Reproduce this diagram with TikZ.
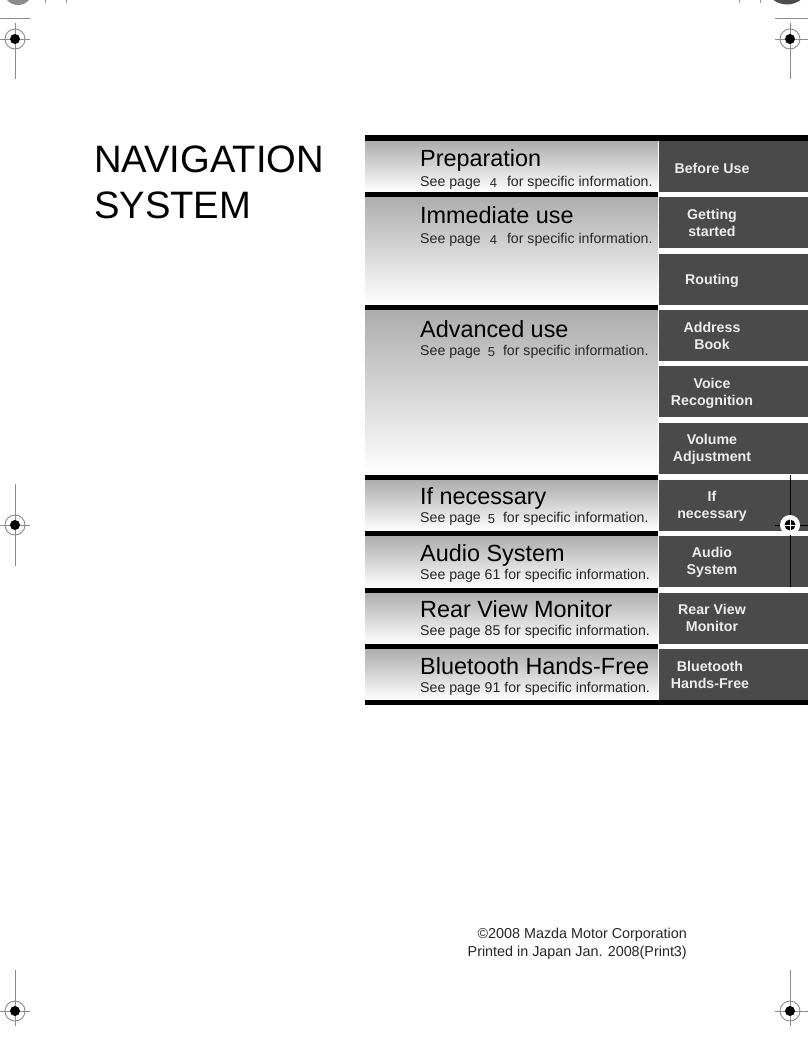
\documentclass[tikz,border=0pt]{standalone}
\usepackage{fontspec}
\setmainfont{Liberation Sans}
\usetikzlibrary{positioning}
\tikzset{
  band/.style={anchor=north west,minimum width=293pt,inner sep=0,outer sep=0,top color=bandgray,bottom color=white},
  tabbox/.style={anchor=north west,minimum width=149pt,minimum height=51pt,inner sep=0,outer sep=0,fill=tabgray},
  tabtext/.style={xshift=-21.5pt,align=center,text=tabwhite,inner sep=0,font=\fontsize{14.2}{17}\selectfont\bfseries},
  heading/.style={anchor=base west,inner sep=0,text height=17pt,text depth=5pt,font=\fontsize{23.4}{28}\selectfont},
  subline/.style={anchor=north west,inner sep=0,yshift=-3pt,text=black!85,font=\fontsize{14.15}{17}\selectfont},
  bar/.style={fill=black},
  regline/.style={black!45,line width=0.9pt},
}
\definecolor{bandgray}{HTML}{ADADAD}
\definecolor{tabgray}{HTML}{4A4A4A}
\definecolor{tabwhite}{HTML}{EDEDED}
\newcommand{\nums}[1]{\hspace{9pt}\raisebox{-1pt}{\fontsize{13}{17}\selectfont #1}\hspace{10pt}}
\newcommand{\numt}[1]{\hspace{7pt}\raisebox{-1pt}{\fontsize{13}{17}\selectfont #1}\hspace{8pt}}
\begin{document}
\begin{tikzpicture}[x=1pt,y=-1pt,node distance=0,on grid=false]
  \useasboundingbox (0,0) rectangle (808,1045);
  \fill[white] (0,0) rectangle (808,1045);
  % Place bands
  \node [band,minimum height=51pt] (prep) at (365,141) {};
  \node [band,minimum height=108pt] (imm) at (365,196.5) {};
  \node [band,minimum height=165pt] (adv) at (365,310) {};
  \node [band,minimum height=51pt] (nec) at (365,480) {};
  \node [band,minimum height=52pt] (audio) at (365,536) {};
  \node [band,minimum height=52pt] (rear) at (365,592) {};
  \node [band,minimum height=51pt] (blue) at (365,649) {};
  % Bars
  \fill[bar] (365,135) rectangle (808,141);
  \fill[bar] (365,191.5) rectangle (658,196.5);
  \fill[bar] (365,304.5) rectangle (658,310);
  \fill[bar] (365,475) rectangle (658,480);
  \fill[bar] (365,531) rectangle (658,536);
  \fill[bar] (365,587.5) rectangle (658,592.5);
  \fill[bar] (365,644) rectangle (658,649);
  \fill[bar] (365,700) rectangle (808,705);
  % Place tabs
  \node [tabbox] (tabuse) at (659,141) {};
  \node [tabbox] (tabstart) at (659,197) {};
  \node [tabbox] (tabroute) at (659,253.5) {};
  \node [tabbox] (tabaddr) at (659,310) {};
  \node [tabbox] (tabvoice) at (659,366) {};
  \node [tabbox] (tabvol) at (659,423) {};
  \node [tabbox] (tabnec) at (659,479.5) {};
  \node [tabbox] (tabaudio) at (659,536) {};
  \node [tabbox] (tabrear) at (659,592.5) {};
  \node [tabbox] (tabblue) at (659,649) {};
  \node [tabtext,yshift=-1.5pt] (ttuse) at (tabuse) {Before Use};
  \node [tabtext] (ttstart) at (tabstart) {Getting\\started};
  \node [tabtext,yshift=-2pt] (ttroute) at (tabroute) {Routing};
  \node [tabtext] (ttaddr) at (tabaddr) {Address\\Book};
  \node [tabtext,yshift=-2pt] (ttvoice) at (tabvoice) {Voice\\Recognition};
  \node [tabtext,yshift=-1pt] (ttvol) at (tabvol) {Volume\\Adjustment};
  \node [tabtext,yshift=-1pt] (ttnec) at (tabnec) {If\\necessary};
  \node [tabtext,yshift=-1pt] (ttaudio) at (tabaudio) {Audio\\System};
  \node [tabtext] (ttrear) at (tabrear) {Rear View\\Monitor};
  \node [tabtext,xshift=-2pt] (ttblue) at (tabblue) {Bluetooth\\Hands-Free};
  % Headings
  \node [heading] (hprep) at (420,166) {Preparation};
  \node [heading] (himm) at (420,223) {Immediate use};
  \node [heading] (hadv) at (420,337) {Advanced use};
  \node [heading] (hnec) at (420,504) {If necessary};
  \node [heading] (haudio) at (420,561) {Audio System};
  \node [heading] (hrear) at (420,617) {Rear View Monitor};
  \node [heading] (hblue) at (420,674) {Bluetooth Hands-Free};
  \node [below=of hprep.south west,subline,yshift=-2pt] (sprep) {See page\nums{4}for specific information.};
  \node [below=of himm.south west,subline,yshift=-2pt] (simm) {See page\nums{4}for specific information.};
  \node [below=of hadv.south west,subline] (sadv) {See page\numt{5}for specific information.};
  \node [below=of hnec.south west,subline] (snec) {See page\numt{5}for specific information.};
  \node [below=of haudio.south west,subline] (saudio) {See page 61 for specific information.};
  \node [below=of hrear.south west,subline] (srear) {See page 85 for specific information.};
  \node [below=of hblue.south west,subline] (sblue) {See page 91 for specific information.};
  % Title and imprint
  \node [anchor=west,align=left,inner sep=0,font=\fontsize{38.2}{46}\selectfont] (title) at (94,182) {NAVIGATION\\SYSTEM};
  \node [anchor=east,align=right,inner sep=0,text=black!85,font=\fontsize{14.35}{18}\selectfont] (imprint) at (687,943.5) {©2008 Mazda Motor Corporation\\Printed in Japan Jan. 2008(Print3)};
  % Trim marks
  \foreach \x/\y/\a/\b/\c/\d in {15/39/0/30/23/79,790/39/775/808/23/79,15/525/0/30/484/566,15/1011/0/30/970/1026,790/1011/775/808/970/1026} {
    \draw[regline] (\a,\y) -- (\b,\y) (\x,\c) -- (\x,\d);
    \draw[regline] (\x,\y) circle (10);
    \fill[black] (\x,\y) circle (5);
  }
  \draw[regline] (0,18) -- (30,18);
  \draw[regline] (775,18) -- (808,18);
  \fill[black!45] (18,-9.6) circle (14.6);
  \fill[black!70] (787,-18) circle (22.5);
  \draw[black!40] (45,0) -- (45,3) (66,0) -- (66,3) (739,0) -- (739,3) (760,0) -- (760,3);
  % Mark over the tabs
  \draw[black,line width=0.7pt] (790,475) -- (790,587);
  \draw[black,line width=0.7pt] (775,525) -- (808,525);
  \fill[white] (790,525) circle (10);
  \fill[black] (790,525) circle (5.5);
  \draw[white,line width=0.5pt] (783,525) -- (797,525) (790,518) -- (790,532);
\end{tikzpicture}
\end{document}
